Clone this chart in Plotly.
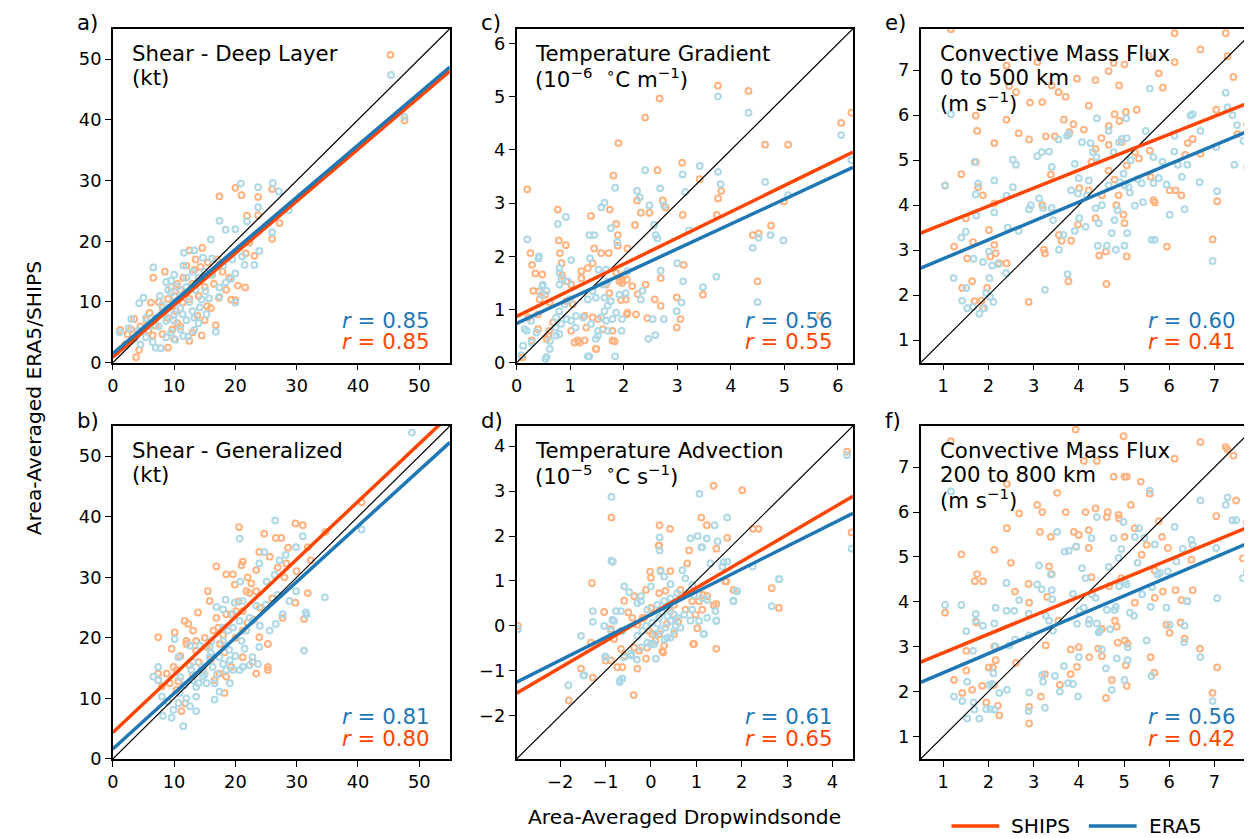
import plotly.graph_objects as go

# ---------------- data ----------------
# (dropwindsonde value, ERA5/SHIPS value) pairs
a_ships = [(45.3,50.7),(47.6,39.9),(20.0,28.8),(21.0,27.6),(17.4,27.4),(23.7,27.3),(26.0,28.6),(21.9,24.2),(23.7,24.3),(27.2,23.0),
 (26.0,20.4),(22.3,19.8),(21.7,18.0),(23.1,17.6),(20.4,12.7),(21.6,12.4),(19.3,10.4),(20.0,10.3),(6.6,14.0),(8.5,15.0),
 (17.3,10.7),(16.8,6.2),(1.2,5.4),(3.8,0.9),(4.3,2.1),(14.6,18.9),(12.5,18.5),(14.3,15.8),(13.3,15.3),(16.2,14.5),
 (17.9,15.0),(15.4,9.3),(11.4,9.9),(10.3,8.5),(8.1,9.1),(6.2,9.9),(6.0,8.2),(3.5,7.2),(2.4,4.7),(5.8,5.3),
 (7.0,6.1),(9.7,5.5),(10.0,3.9),(12.5,3.6),(8.9,7.4),(8.1,4.7),(13.8,7.7),(11.0,12.0),(12.0,11.5),(13.0,13.0),
 (10.0,11.0),(9.0,10.5),(12.5,10.5),(14.0,11.0),(15.0,12.5),(16.5,13.0),(11.5,14.0),(10.5,13.0),(9.5,12.5),(7.5,10.0),
 (4.5,6.0),(5.5,7.0),(3.0,5.5),(6.5,4.5),(11.0,6.0),(13.0,5.0),(15.0,7.0),(16.0,9.0),(18.5,12.0),(15.5,16.5),
 (13.5,17.0),(12.0,16.0),(17.0,17.0),(19.0,14.0),(8.0,8.0),(2.0,3.0),(9.0,2.5),(10.5,6.5),(14.5,4.5)]
a_era5 = [(45.4,47.4),(47.6,40.5),(20.9,29.5),(26.1,29.6),(23.7,28.9),(27.1,28.2),(23.7,25.6),(28.7,25.1),(17.4,23.4),(21.9,23.3),
 (26.0,21.5),(18.4,21.9),(20.0,22.0),(23.9,18.4),(23.1,16.1),(21.1,17.5),(20.0,14.7),(20.0,9.9),(16.8,5.1),(6.6,15.7),
 (5.0,10.7),(1.1,5.0),(16.0,20.3),(21.5,16.1),(19.3,13.8),(11.6,18.1),(13.3,18.5),(14.7,17.3),(16.2,17.2),(8.7,13.3),
 (10.0,14.5),(7.7,11.0),(4.3,9.8),(3.0,7.2),(2.6,5.7),(5.4,7.4),(7.0,7.4),(8.7,6.9),(10.0,6.9),(11.4,8.0),
 (13.0,8.5),(14.2,9.1),(14.5,10.4),(15.1,11.8),(15.7,10.6),(17.4,10.9),(17.4,12.4),(18.4,13.2),(15.3,8.0),(13.3,7.4),
 (13.3,5.4),(12.3,4.3),(11.5,4.4),(10.2,3.8),(8.7,4.2),(7.0,2.5),(7.8,2.4),(6.5,3.4),(5.4,4.2),(4.2,5.3),
 (9.0,9.0),(10.0,10.0),(11.0,11.0),(12.0,12.5),(9.5,11.5),(8.0,9.5),(11.0,9.0),(12.5,10.0),(13.5,12.0),(10.5,12.5),
 (9.0,12.0),(12.0,14.0),(13.0,15.0),(14.0,14.0),(16.0,14.5),(15.0,15.0),(11.5,16.0),(10.0,8.0),(8.5,8.0),(7.5,6.0),
 (6.0,6.0),(3.5,4.0),(4.5,3.0),(9.5,5.0),(11.0,5.5),(12.0,7.0),(14.0,6.5),(19.5,17.0),(18.0,16.0),(9.5,13.5)]

b_ships = [(24.7,37.2),(26.6,36.5),(27.5,36.5),(31.8,35.0),(28.6,34.9),(23.9,34.2),(25.6,33.4),(21.2,32.6),(21.0,32.0),(16.9,31.8),
 (18.5,30.5),(19.6,30.5),(23.4,31.2),(26.9,31.6),(28.3,32.3),(32.3,32.8),(15.5,27.7),(15.8,26.1),(13.9,24.2),(11.7,22.8),
 (12.3,22.3),(10.1,20.9),(7.4,20.1),(9.6,18.2),(12.0,19.5),(13.6,19.5),(16.4,21.2),(17.2,21.7),(21.2,21.2),(19.9,28.8),
 (22.6,29.0),(21.8,27.7),(22.3,27.4),(23.4,27.7),(19.3,23.9),(20.1,24.4),(18.5,23.9),(16.9,23.3),(21.2,24.4),(27.7,23.3),
 (31.8,27.4),(29.8,25.8),(31.2,23.1),(23.9,20.1),(25.3,19.0),(23.4,14.1),(25.3,14.7),(25.3,15.2),(19.3,15.2),(18.5,13.6),
 (14.7,14.7),(13.1,13.8),(10.4,14.7),(8.8,14.1),(7.4,14.1),(9.3,12.5),(10.7,12.8),(11.8,9.2),(10.4,11.4),(16.6,13.0),
 (17.4,14.1),(21.2,16.8),(22.8,16.0),(18.2,17.6),(12.0,19.0),(9.9,15.2),(13.1,21.2),(13.6,17.9),(15.3,18.5),(18.2,10.9),
 (11.2,7.9),(40.6,42.4),(34.7,37.5),(20.6,38.3),(29.8,38.9),(31.0,38.6),(7.4,13.0),(8.0,12.0),(14.0,16.0),(16.0,16.5),
 (20.0,20.0),(22.0,22.5),(24.0,25.0),(26.0,26.5),(18.0,20.5),(12.5,15.5),(11.0,17.0),(15.0,20.0),(17.5,19.0),(23.0,23.0),
 (20.5,26.0),(22.0,30.0),(28.0,30.0),(30.0,31.0)]
b_era5 = [(20.7,36.4),(31.0,36.8),(29.9,35.0),(28.2,33.7),(27.2,32.8),(24.7,34.2),(23.9,32.3),(26.4,30.4),(25.1,29.3),(20.8,29.3),
 (18.4,26.3),(16.9,25.1),(18.0,24.7),(19.9,25.8),(21.2,26.1),(23.4,25.3),(22.3,23.3),(21.8,21.2),(22.8,22.8),(19.6,21.7),
 (18.0,19.5),(16.1,19.5),(14.2,18.7),(12.6,18.7),(10.1,19.8),(10.7,16.8),(7.4,15.2),(7.4,13.0),(8.0,10.3),(10.9,10.9),
 (11.7,12.2),(13.6,11.9),(14.7,13.6),(16.3,15.2),(18.0,15.7),(19.1,16.3),(18.5,14.7),(19.6,14.7),(21.2,15.2),(22.3,15.5),
 (23.7,15.7),(22.8,16.8),(21.5,18.2),(23.9,18.5),(25.6,21.2),(26.6,22.3),(27.7,23.9),(31.5,24.2),(34.6,26.7),(31.2,17.9),
 (29.9,27.7),(28.8,26.1),(26.9,27.1),(16.6,12.5),(17.4,11.1),(16.6,9.8),(13.6,10.3),(12.6,8.7),(9.9,8.1),(10.7,9.2),
 (13.6,7.9),(11.5,5.4),(9.6,6.8),(8.2,7.1),(6.6,13.6),(15.3,12.5),(19.1,12.5),(20.7,14.7),(17.4,16.8),(15.8,16.8),
 (14.5,15.2),(12.8,14.7),(13.1,16.0),(15.8,18.5),(18.8,21.2),(20.7,22.8),(19.6,23.9),(25.0,25.5),(18.0,21.7),(48.8,53.9),
 (40.6,37.9),(26.5,39.4),(31.6,23.8),(12.0,10.0),(14.0,12.5),(15.0,14.0),(17.0,14.0),(19.0,18.0),(20.0,17.0),(21.0,19.5),
 (24.0,22.0),(16.0,17.5),(11.0,13.5),(9.0,9.5),(13.0,13.0)]

c_ships = [(0.20,3.26),(0.26,2.06),(0.29,1.84),(0.35,1.68),(0.48,1.66),(0.42,1.34),(0.77,2.88),(0.79,2.30),(0.92,2.21),(0.81,2.06),
 (0.84,1.87),(0.85,1.64),(1.02,1.47),(1.21,1.72),(1.39,2.76),(1.45,2.15),(1.58,2.06),(1.72,2.06),(1.81,3.52),(1.90,4.13),
 (1.89,2.40),(1.86,2.61),(1.74,2.88),(1.89,2.20),(1.97,1.50),(2.07,2.15),(2.21,2.59),(2.25,3.05),(2.32,2.82),(2.40,4.61),
 (2.48,2.82),(2.63,3.62),(2.67,4.97),(2.73,3.05),(2.78,2.92),(3.09,3.76),(3.10,2.78),(3.12,1.84),(2.99,1.23),(2.99,0.66),
 (3.06,0.82),(3.42,3.45),(3.48,1.28),(3.76,5.21),(3.76,3.09),(3.74,2.78),(3.82,3.23),(4.33,5.11),(4.41,2.40),(4.52,2.43),
 (4.50,1.53),(4.64,4.10),(4.75,2.58),(5.07,4.10),(4.99,3.03),(6.06,4.51),(6.25,4.70),(5.67,0.88),(0.11,0.10),(2.23,0.91),
 (1.83,0.40),(1.42,0.85),(1.49,0.26),(1.18,0.38),(1.08,0.38),(0.59,0.51),(2.06,0.91),(2.44,0.84),(2.58,1.19),(2.69,1.07),
 (2.69,1.59),(2.41,1.47),(2.26,1.29),(1.95,1.18),(2.06,1.56),(2.01,1.65),(0.22,0.85),(0.28,0.42),(0.40,0.63),(0.56,0.45),
 (0.61,0.60),(0.68,0.76),(0.40,0.91),(0.43,1.19),(0.53,1.28),(0.31,1.35),(0.62,1.13),(0.93,1.16),(1.05,1.10),(1.02,0.60),
 (1.14,0.42),(1.27,0.88),(1.30,0.66),(1.48,0.26),(1.52,0.82),(1.61,0.63),(1.79,0.42),(1.79,0.60),(1.27,0.42),(1.73,1.31),
 (1.67,1.47),(1.21,1.59),(1.92,1.53),(1.97,1.56),(1.86,1.69),(2.04,1.19),(2.07,0.94),(2.16,1.44),(1.33,1.78),(1.42,1.87),
 (0.93,1.53)]
c_era5 = [(0.20,2.32),(0.41,1.96),(0.48,1.44),(0.77,2.61),(0.92,2.74),(1.02,1.93),(0.80,1.78),(0.84,1.58),(0.96,1.53),(1.36,2.40),
 (1.45,2.40),(1.37,1.96),(1.53,1.75),(1.67,1.75),(1.58,2.92),(1.64,3.01),(1.76,2.53),(1.84,3.29),(1.88,2.27),(2.07,1.72),
 (2.25,3.23),(2.30,3.11),(2.40,3.62),(2.48,2.96),(2.57,2.59),(2.60,2.40),(2.68,3.28),(2.75,2.96),(2.63,2.34),(2.69,1.73),
 (3.00,1.87),(3.10,3.54),(3.11,1.53),(3.15,3.21),(3.22,2.49),(3.42,3.70),(3.48,1.42),(3.76,5.01),(3.76,3.59),(3.81,3.36),
 (3.73,1.62),(4.33,4.70),(4.41,2.16),(4.50,1.14),(4.52,2.35),(4.64,3.40),(4.74,2.40),(4.98,2.30),(5.07,3.15),(6.06,4.28),
 (6.25,3.81),(0.12,0.32),(0.15,0.63),(0.27,0.79),(0.56,0.11),(0.62,0.26),(1.36,0.12),(1.84,0.12),(1.52,0.51),(1.70,0.60),
 (1.96,0.60),(2.46,0.45),(2.59,0.52),(2.54,0.82),(2.75,0.82),(2.99,0.97),(3.08,1.13),(1.97,0.82),(0.09,0.14),(0.28,0.38),
 (0.37,0.57),(0.54,0.07),(0.62,0.41),(0.74,0.51),(0.80,0.54),(0.73,0.66),(0.83,0.73),(0.74,0.85),(0.93,0.82),(1.02,0.79),
 (0.80,0.97),(0.90,1.10),(0.99,1.19),(1.11,0.88),(1.10,0.66),(1.24,0.85),(1.39,0.73),(1.48,0.45),(1.33,0.12),(1.52,0.60),
 (1.58,0.85),(1.64,0.97),(1.70,1.07),(1.67,0.79),(1.79,0.82),(1.86,0.94),(1.76,1.16),(1.64,1.22),(1.48,1.22),(1.42,1.35),
 (1.33,1.19),(1.61,1.47),(1.70,1.53),(1.92,1.28),(2.04,1.31),(2.35,1.35),(2.32,1.19),(0.49,1.47),(0.56,1.35),(0.46,1.28),
 (0.80,1.47),(0.80,1.69),(0.42,2.00),(0.19,0.60)]

d_ships = [(4.32,3.88),(4.42,2.08),(1.38,3.12),(2.01,3.02),(-0.87,2.41),(0.19,2.24),(0.42,2.16),(1.11,2.41),(1.23,2.24),(0.17,1.78),
 (1.68,1.96),(2.25,2.16),(2.37,2.16),(0.84,1.68),(-0.85,1.43),(-1.30,0.95),(-0.02,1.21),(0.21,1.24),(0.43,1.22),(0.80,1.39),
 (1.66,0.99),(1.82,0.80),(2.66,0.84),(2.82,0.40),(1.38,0.46),(1.13,0.36),(-1.03,0.31),(-0.59,0.56),(-0.37,0.66),(-0.11,0.80),
 (0.18,0.73),(0.32,0.78),(1.02,-0.05),(0.95,-0.40),(1.44,-0.51),(-0.37,-0.48),(-0.66,-0.51),(-0.11,-0.73),(0.25,-0.56),(-1.00,-0.77),
 (-0.74,-0.92),(-0.30,-0.95),(-1.54,-0.95),(-1.28,-1.15),(-1.81,-1.66),(-0.38,-1.54),(-1.32,-0.37),(-2.93,0.00),(-0.88,-0.07),(-0.81,-0.29),
 (-0.19,0.18),(0.03,-0.18),(0.51,0.47),(0.91,0.55),(1.15,0.69),(1.44,0.49),(1.44,1.72),(0.18,1.79),(0.00,1.07),(0.65,0.80),
 (1.06,0.55),(1.24,0.66),(0.98,0.25),(0.76,0.36),(0.43,0.33),(1.64,0.99),(-0.41,0.18),(-0.66,-0.11),(-0.30,0.03),(-0.15,0.18),
 (-0.04,-0.11),(0.18,-0.18),(0.10,-0.33),(0.29,-0.44),(0.51,-0.18),(-0.08,-0.48),(-0.26,-0.55),(-0.59,-0.66),(-0.63,-0.92),(-0.88,-0.77),
 (0.27,-0.59),(0.93,-0.40),(0.60,0.10),(0.35,0.05),(0.00,0.40),(-0.50,0.30)]
d_era5 = [(4.32,3.80),(4.42,1.72),(1.07,2.94),(1.68,2.41),(1.40,2.24),(-0.87,2.87),(-0.87,1.45),(0.19,1.97),(0.19,1.68),(0.87,1.95),
 (1.03,2.00),(1.11,1.75),(1.23,1.95),(1.47,1.88),(1.60,1.42),(2.24,1.32),(2.82,1.04),(1.81,0.56),(1.88,0.78),(2.66,0.44),
 (1.42,0.33),(1.44,0.12),(1.24,0.18),(1.17,-0.18),(0.87,0.12),(-0.59,0.88),(-0.48,0.75),(-0.22,0.55),(0.00,0.88),(0.43,0.93),
 (-1.28,0.33),(-1.28,0.09),(-1.03,0.00),(-0.77,0.33),(-1.54,-0.22),(-1.01,-0.68),(-0.59,-0.70),(-0.44,-0.62),(-0.31,-0.75),(0.11,-0.73),
 (-1.49,-1.10),(-1.82,-1.32),(-0.69,-1.25),(-2.93,-0.07),(-0.85,0.14),(0.43,-0.26),(-0.08,-0.37),(-0.44,-0.66),(-0.22,-0.48),(0.00,-0.40),
 (0.10,-0.18),(0.21,-0.11),(0.32,-0.04),(0.43,0.11),(0.51,0.25),(0.36,0.22),(0.18,0.18),(0.03,0.07),(-0.11,0.00),(-0.19,-0.11),
 (-0.30,-0.22),(-0.08,0.36),(0.14,0.47),(0.29,0.55),(0.43,0.62),(0.58,0.73),(0.76,1.06),(0.69,1.24),(0.91,0.91),(0.95,0.69),
 (0.91,0.36),(0.73,0.25),(0.58,0.18),(0.65,-0.04),(0.51,-0.11),(0.36,-0.26),(0.07,-0.40),(-0.66,0.33),(-0.63,-0.11),(-0.81,0.11),
 (-0.88,-0.11),(-0.30,0.51),(-0.22,0.66),(0.21,1.21),(0.29,1.10),(-0.84,1.43),(1.13,1.75),(1.31,1.39),(1.57,1.32),(1.68,1.43),
 (1.44,0.11),(1.16,-0.18),(1.06,0.11),(1.13,0.62),(1.24,0.58),(1.82,0.55),(1.90,0.77),(2.83,1.04),(-0.99,-0.70),(-0.68,-1.21),
 (-0.63,-1.17),(-1.47,-1.10),(0.25,0.30),(0.40,0.40),(0.15,0.05),(0.30,-0.30),(0.55,0.00)]

e_ships = [(1.17,7.91),(1.04,4.44),(1.24,3.08),(1.40,4.69),(1.42,2.16),(1.50,3.71),(1.53,2.82),(1.64,2.31),(1.66,3.18),(1.69,1.87),
 (1.72,5.99),(1.75,5.65),(1.72,4.96),(1.77,4.40),(1.88,4.22),(1.85,1.88),(1.88,1.71),(1.97,2.16),(2.01,3.45),(2.04,2.86),
 (2.13,5.38),(2.13,4.04),(2.13,3.12),(2.16,2.93),(2.24,2.71),(2.40,7.10),(2.40,5.90),(2.40,2.71),(2.46,6.65),(2.61,6.51),
 (2.67,5.60),(2.92,6.28),(2.90,5.46),(2.89,1.85),(3.08,7.18),(3.19,6.29),(3.19,4.00),(3.23,3.01),(3.25,2.93),(3.27,5.53),
 (3.38,4.68),(3.40,6.66),(3.47,5.53),(3.55,6.51),(3.56,3.34),(3.62,3.21),(3.71,6.41),(3.67,5.90),(3.77,2.31),(3.79,5.62),
 (3.83,3.21),(3.88,5.80),(3.96,6.81),(3.98,3.57),(4.01,4.38),(4.11,5.68),(4.22,6.21),(4.22,4.33),(4.28,4.96),(4.37,6.78),
 (4.37,3.71),(4.37,5.25),(4.45,2.88),(4.50,5.49),(4.51,4.22),(4.60,2.97),(4.61,2.25),(4.66,6.98),(4.66,5.76),(4.66,5.34),
 (4.66,4.77),(4.77,7.16),(4.79,6.02),(4.79,4.57),(4.83,4.00),(4.88,4.22),(4.89,6.66),(4.90,5.87),(4.95,5.40),(4.99,3.79),
 (5.01,7.13),(5.01,3.60),(5.06,2.86),(5.04,6.07),(5.06,4.88),(5.24,5.18),(5.28,6.12),(5.33,5.04),(5.54,7.32),(5.57,5.21),
 (5.59,4.63),(5.65,4.11),(5.68,4.06),(5.77,6.93),(5.86,6.61),(5.95,3.08),(6.01,4.33),(6.12,7.82),(6.12,7.18),(6.14,4.33),
 (6.27,4.22),(6.35,5.12),(6.41,5.38),(6.52,5.47),(6.69,7.46),(6.69,5.14),(6.96,3.24),(7.04,6.12),(7.06,4.09),(7.25,7.82),
 (7.29,7.31),(7.42,6.85),(7.51,5.58),(7.72,5.79)]
e_era5 = [(1.17,6.02),(1.04,4.43),(1.23,2.38),(1.40,3.28),(1.42,1.88),(1.50,3.41),(1.51,2.16),(1.53,1.71),(1.66,1.74),(1.67,2.81),
 (1.69,4.96),(1.72,4.24),(1.73,3.77),(1.77,4.48),(1.80,1.59),(1.88,2.74),(1.91,1.71),(1.95,2.05),(2.01,2.97),(2.02,2.38),
 (2.04,1.96),(2.11,1.85),(2.13,4.55),(2.13,3.84),(2.08,2.66),(2.21,2.69),(2.39,2.49),(2.40,4.21),(2.43,3.50),(2.54,4.40),
 (2.54,5.01),(2.61,4.90),(2.67,3.43),(2.90,3.91),(2.94,4.00),(3.08,5.09),(3.12,4.15),(3.18,5.18),(3.21,3.94),(3.25,2.12),
 (3.34,5.19),(3.40,4.85),(3.40,3.94),(3.43,3.67),(3.55,5.46),(3.56,3.01),(3.66,3.34),(3.74,5.54),(3.78,5.58),(3.75,2.47),
 (3.83,4.33),(3.91,4.92),(3.91,3.43),(3.98,4.26),(4.00,4.60),(4.01,3.71),(4.07,5.40),(4.15,3.52),(4.18,4.22),(4.22,4.55),
 (4.26,5.38),(4.31,5.18),(4.37,3.93),(4.39,5.07),(4.40,5.93),(4.42,3.10),(4.44,3.60),(4.51,4.00),(4.62,3.10),(4.66,4.44),
 (4.66,5.65),(4.73,3.38),(4.77,5.18),(4.79,3.67),(4.82,3.01),(4.86,3.89),(4.89,5.40),(4.91,4.51),(4.95,5.47),(4.99,4.70),
 (5.01,3.10),(5.02,4.44),(5.05,5.93),(5.06,5.49),(5.07,3.38),(5.10,4.40),(5.13,4.28),(5.15,5.00),(5.24,3.99),(5.30,4.58),
 (5.39,4.49),(5.42,4.07),(5.48,5.65),(5.57,6.59),(5.61,3.23),(5.65,4.49),(5.65,5.07),(5.68,3.23),(5.77,4.60),(5.85,4.97),
 (5.94,4.46),(6.01,3.79),(6.11,5.19),(6.12,5.54),(6.19,4.90),(6.28,4.63),(6.34,3.91),(6.40,4.90),(6.47,5.99),(6.52,6.02),
 (6.69,5.65),(6.67,4.51),(6.96,2.76),(7.04,5.29),(7.06,4.31),(7.25,6.50),(7.29,6.17),(7.40,6.00),(7.44,4.90),(7.50,5.78),
 (7.64,5.43),(7.72,4.85)]

f_ships = [(1.17,7.58),(1.04,3.76),(1.24,2.26),(1.40,5.06),(1.42,1.97),(1.51,2.91),(1.51,2.47),(1.64,2.04),(1.70,4.46),(1.75,4.62),
 (1.88,4.46),(1.73,3.54),(1.86,2.13),(1.95,1.76),(2.01,2.54),(2.10,2.54),(2.13,5.16),(2.16,2.70),(2.13,3.01),(2.21,1.69),
 (2.24,1.47),(2.12,2.15),(2.41,6.63),(2.41,5.64),(2.50,4.87),(2.59,4.23),(2.61,2.64),(2.68,5.97),(2.89,4.40),(2.90,3.98),
 (2.90,1.66),(2.90,1.29),(3.08,6.16),(3.14,5.56),(3.19,6.00),(3.16,1.89),(3.25,2.39),(3.27,3.03),(3.30,4.11),(3.34,4.79),
 (3.40,4.62),(3.38,5.45),(3.52,6.43),(3.55,3.58),(3.58,2.15),(3.71,6.00),(3.82,2.39),(3.89,5.56),(3.82,2.94),(3.93,7.84),
 (3.94,5.23),(3.96,2.55),(4.00,2.99),(4.00,5.49),(4.11,7.14),(4.15,6.00),(4.22,5.60),(4.22,5.20),(4.23,2.77),(4.28,4.55),
 (4.37,6.08),(4.40,7.14),(4.43,2.96),(4.51,3.40),(4.51,2.79),(4.62,5.89),(4.60,1.86),(4.64,6.00),(4.67,4.35),(4.73,2.26),
 (4.77,6.79),(4.80,3.58),(4.84,3.45),(4.86,3.09),(4.88,5.94),(4.89,5.86),(4.94,4.53),(4.99,7.69),(5.01,6.79),(5.06,6.79),
 (5.01,5.45),(5.02,3.14),(5.04,2.59),(5.08,3.07),(5.06,2.13),(5.15,6.16),(5.24,3.98),(5.24,5.64),(5.37,6.68),(5.39,5.05),
 (5.50,5.27),(5.57,6.41),(5.59,2.77),(5.67,2.42),(5.68,4.70),(5.68,4.09),(5.77,5.80),(5.84,5.45),(5.86,4.23),(5.94,3.49),
 (5.97,5.20),(6.01,3.31),(6.12,7.19),(6.14,4.26),(6.25,3.54),(6.27,4.04),(6.34,3.18),(6.40,4.02),(6.52,4.26),(6.49,4.94),
 (6.68,2.96),(6.69,7.56),(6.96,1.97),(7.04,5.91),(7.06,2.54),(7.25,7.45),(7.29,7.40),(7.42,7.26),(7.48,6.26),(7.63,4.97),
 (7.72,5.77)]
f_era5 = [(1.17,6.46),(1.04,3.93),(1.24,1.89),(1.40,3.93),(1.42,1.79),(1.51,3.35),(1.53,2.22),(1.53,1.40),(1.66,2.91),(1.72,3.73),
 (1.72,3.58),(1.67,1.76),(1.69,1.60),(1.80,1.40),(1.88,3.47),(1.95,1.61),(2.02,2.15),(2.04,1.61),(2.08,2.17),(2.11,2.41),
 (2.13,1.60),(2.13,3.52),(2.16,3.87),(2.16,3.01),(2.24,1.97),(2.40,3.80),(2.40,4.42),(2.41,2.04),(2.46,3.03),(2.57,3.80),
 (2.59,3.16),(2.68,4.04),(2.89,3.74),(2.90,3.25),(2.90,1.98),(2.89,1.57),(3.08,4.39),(3.12,4.81),(3.18,4.28),(3.19,2.37),
 (3.21,2.22),(3.25,1.64),(3.27,3.69),(3.34,3.58),(3.38,4.61),(3.40,4.26),(3.41,4.06),(3.43,3.36),(3.47,2.35),(3.52,5.56),
 (3.58,2.00),(3.67,2.57),(3.69,5.12),(3.78,5.14),(3.76,2.19),(3.87,2.17),(3.87,4.18),(3.94,5.23),(3.96,3.51),(3.98,1.89),
 (4.00,2.77),(4.01,3.80),(4.07,4.75),(4.11,3.87),(4.15,4.53),(4.22,3.51),(4.23,3.60),(4.28,5.42),(4.29,4.17),(4.37,4.09),
 (4.40,5.89),(4.40,3.52),(4.44,3.32),(4.47,3.36),(4.51,2.94),(4.60,2.52),(4.62,3.82),(4.66,4.78),(4.69,3.39),(4.73,2.04),
 (4.77,5.42),(4.79,3.82),(4.82,3.89),(4.84,2.74),(4.88,4.98),(4.89,4.35),(4.94,5.18),(4.99,5.78),(5.01,2.26),(5.02,4.45),
 (5.06,4.39),(5.08,2.99),(5.08,2.70),(5.13,3.76),(5.22,3.69),(5.24,5.45),(5.30,4.87),(5.33,5.64),(5.40,4.17),(5.45,5.43),
 (5.50,3.14),(5.57,6.48),(5.59,3.89),(5.61,2.35),(5.62,4.33),(5.68,5.28),(5.74,4.61),(5.79,4.65),(5.94,3.87),(5.97,4.68),
 (6.01,3.49),(6.12,5.67),(6.16,4.90),(6.30,5.18),(6.33,3.10),(6.34,3.47),(6.40,4.01),(6.49,5.38),(6.52,5.27),(6.69,6.26),
 (6.69,2.77),(6.96,1.79),(7.04,5.20),(7.06,4.08),(7.25,6.16),(7.29,6.33),(7.40,5.82),(7.48,5.82),(7.63,4.53),(7.72,4.68)]

# regression fits: (intercept, slope)
fit_ships = {"a": (0.9, 0.857), "b": (4.35, 0.954), "c": (0.87, 0.492),
             "d": (0.253, 0.592), "e": (3.18, 0.399), "f": (2.45, 0.415)}
fit_era5 = {"a": (1.5, 0.858), "b": (1.63, 0.921), "c": (0.74, 0.467),
            "d": (0.251, 0.507), "e": (2.39, 0.420), "f": (1.99, 0.4286)}
r_ships = {"a": "0.85", "b": "0.80", "c": "0.55", "d": "0.65", "e": "0.41", "f": "0.42"}
r_era5 = {"a": "0.85", "b": "0.81", "c": "0.56", "d": "0.61", "e": "0.60", "f": "0.56"}

titles = {
    "a": ["Shear - Deep Layer", "(kt)"],
    "b": ["Shear - Generalized", "(kt)"],
    "c": ["Temperature Gradient", "(10<sup>−6</sup>  <sup>∘</sup>C m<sup>−1</sup>)"],
    "d": ["Temperature Advection", "(10<sup>−5</sup>  <sup>∘</sup>C s<sup>−1</sup>)"],
    "e": ["Convective Mass Flux", "0 to 500 km", "(m s<sup>−1</sup>)"],
    "f": ["Convective Mass Flux", "200 to 800 km", "(m s<sup>−1</sup>)"],
}
ranges = {"a": [0, 55], "b": [0, 55], "c": [0, 6.28], "d": [-2.96, 4.45],
          "e": [0.5, 7.92], "f": [0.5, 7.92]}
tickvals = {"a": [0, 10, 20, 30, 40, 50], "b": [0, 10, 20, 30, 40, 50],
            "c": [0, 1, 2, 3, 4, 5, 6], "d": [-2, -1, 0, 1, 2, 3, 4],
            "e": [1, 2, 3, 4, 5, 6, 7], "f": [1, 2, 3, 4, 5, 6, 7]}
data = {"a": (a_ships, a_era5), "b": (b_ships, b_era5), "c": (c_ships, c_era5),
        "d": (d_ships, d_era5), "e": (e_ships, e_era5), "f": (f_ships, f_era5)}
legend_names = ["SHIPS", "ERA5"]

# ---------------- styling / layout ----------------
W, H = 1252, 838
FONT = "DejaVu Sans"
C_SHIPS_PT = "#ffb380"
C_ERA5_PT = "#add8e6"
C_SHIPS = "#ff4500"
C_ERA5 = "#1f77b4"
TICK_FS = 17.8
TXT_FS = 21.3

col_px = [(99.3, 438.0), (505.0, 843.0), (911.0, 1248.0)]
row_px = [(21.0, 359.0), (423.0, 760.0)]
layout_pos = {"a": (0, 0), "b": (1, 0), "c": (0, 1), "d": (1, 1), "e": (0, 2), "f": (1, 2)}

def px(x):
    return x / W

def py(y):
    return 1 - y / H

fig = go.Figure()
annotations = []
shapes = []
layout_axes = {}

for i, key in enumerate(["a", "b", "c", "d", "e", "f"]):
    n = i + 1
    xa = "x" if n == 1 else f"x{n}"
    ya = "y" if n == 1 else f"y{n}"
    row, col = layout_pos[key]
    x0, x1 = col_px[col]
    y0, y1 = row_px[row]
    rng = ranges[key]
    ships, era5 = data[key]

    for pts, c in [(ships, C_SHIPS_PT), (era5, C_ERA5_PT)]:
        fig.add_trace(go.Scatter(x=[p[0] for p in pts], y=[p[1] for p in pts], mode="markers",
                                 marker=dict(symbol="circle-open", size=5.8, color=c,
                                             line=dict(width=2.0, color=c)),
                                 xaxis=xa, yaxis=ya, showlegend=False, hoverinfo="skip"))
    # 1:1 line
    fig.add_trace(go.Scatter(x=rng, y=rng, mode="lines", line=dict(color="black", width=1.2),
                             xaxis=xa, yaxis=ya, showlegend=False, hoverinfo="skip"))
    for fit, colr, name in [(fit_ships[key], C_SHIPS, "SHIPS"), (fit_era5[key], C_ERA5, "ERA5")]:
        b0, b1 = fit
        fig.add_trace(go.Scatter(x=rng, y=[b0 + b1 * rng[0], b0 + b1 * rng[1]], mode="lines",
                                 line=dict(color=colr, width=3.5), name=name,
                                 xaxis=xa, yaxis=ya, showlegend=False, hoverinfo="skip"))

    axis_common = dict(range=rng, tickvals=tickvals[key], showgrid=False, zeroline=False,
                       showline=True, linecolor="black", linewidth=1.5, mirror=True,
                       ticks="outside", ticklen=6, tickwidth=1.4, tickcolor="black",
                       tickfont=dict(family=FONT, size=TICK_FS, color="black"))
    xname = "xaxis" if n == 1 else f"xaxis{n}"
    yname = "yaxis" if n == 1 else f"yaxis{n}"
    layout_axes[xname] = dict(domain=[px(x0), px(x1)], anchor=ya, **axis_common)
    layout_axes[yname] = dict(domain=[py(y1), py(y0)], anchor=xa, **axis_common)

    # panel letter
    annotations.append(dict(x=px(x0 - 38), y=py(y0 - 6), xref="paper", yref="paper",
                            text=f"{key})", showarrow=False, xanchor="left", yanchor="middle",
                            font=dict(family=FONT, size=TXT_FS, color="black")))
    # title lines
    for j, line in enumerate(titles[key]):
        annotations.append(dict(x=px(x0 + 17), y=py(y0 + 25 + 24.5 * j), xref="paper", yref="paper",
                                text=line, showarrow=False, xanchor="left", yanchor="middle",
                                font=dict(family=FONT, size=TXT_FS, color="black")))
    # r values
    annotations.append(dict(x=px(x1 - 18), y=py(y1 - 43), xref="paper", yref="paper",
                            text=f"<i>r</i> = {r_era5[key]}", showarrow=False, xanchor="right",
                            yanchor="middle", font=dict(family=FONT, size=TXT_FS, color=C_ERA5)))
    annotations.append(dict(x=px(x1 - 18), y=py(y1 - 21), xref="paper", yref="paper",
                            text=f"<i>r</i> = {r_ships[key]}", showarrow=False, xanchor="right",
                            yanchor="middle", font=dict(family=FONT, size=TXT_FS, color=C_SHIPS)))

# shared axis labels
annotations.append(dict(x=px(674), y=py(819), xref="paper", yref="paper",
                        text="Area-Averaged Dropwindsonde", showarrow=False,
                        xanchor="center", yanchor="middle",
                        font=dict(family=FONT, size=TXT_FS * 0.95, color="black")))
annotations.append(dict(x=px(20), y=py(395), xref="paper", yref="paper",
                        text="Area-Averaged ERA5/SHIPS", showarrow=False, textangle=-90,
                        xanchor="center", yanchor="middle",
                        font=dict(family=FONT, size=TXT_FS * 0.95, color="black")))

# legend (line sample + label for each series)
for name, colr, lx in [(legend_names[0], C_SHIPS, 942), (legend_names[1], C_ERA5, 1080)]:
    shapes.append(dict(type="line", xref="paper", yref="paper", x0=px(lx), x1=px(lx + 48),
                       y0=py(828), y1=py(828), line=dict(color=colr, width=3.5)))
    annotations.append(dict(x=px(lx + 58), y=py(828), xref="paper", yref="paper", text=name,
                            showarrow=False, xanchor="left", yanchor="middle",
                            font=dict(family=FONT, size=TXT_FS * 0.95, color="black")))

fig.update_layout(
    width=W, height=H, autosize=False,
    margin=dict(l=0, r=0, t=0, b=0),
    paper_bgcolor="white", plot_bgcolor="white",
    font=dict(family=FONT, color="black"),
    annotations=annotations, shapes=shapes, showlegend=False,
    **layout_axes,
)

fig.write_html("out.html")
